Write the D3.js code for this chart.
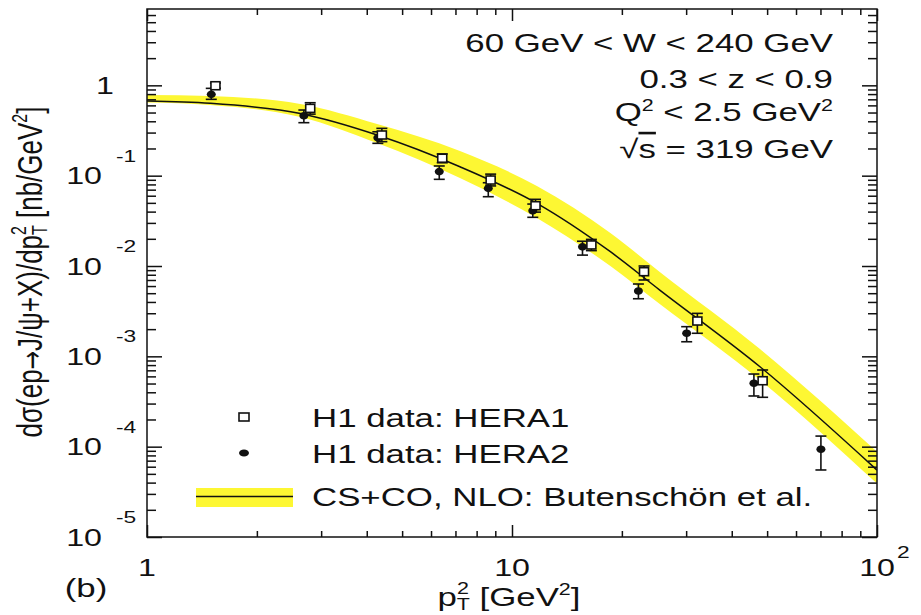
<!DOCTYPE html>
<html>
<head>
<meta charset="utf-8">
<script src="https://cdn.jsdelivr.net/npm/d3@7"></script>
<style>
body { margin: 0; background: #fff; }
text { font-family: "Liberation Sans", Arial, Helvetica, sans-serif; fill: #111; }
</style>
</head>
<body>
<svg width="921" height="615"></svg>
<script>
// H1 J/psi, d sigma / d pT^2
var hera1X  = [1.54, 2.80, 4.40, 6.44, 8.74, 11.6, 16.5, 23.0, 32.2, 48.6];
var hera1Y  = [0.99, 0.556, 0.282, 0.156, 0.0895, 0.0465, 0.0171, 0.00865, 0.00246, 0.000537];
var hera1Lo = [0.93, 0.48, 0.238, 0.139, 0.077, 0.0395, 0.0148, 0.0070, 0.0018, 0.000352];
var hera1Hi = [1.06, 0.642, 0.334, 0.174, 0.104, 0.0547, 0.0197, 0.0100, 0.00299, 0.000706];

var hera2X  = [1.50, 2.69, 4.29, 6.32, 8.61, 11.4, 15.6, 22.2, 30.1, 46.0, 70.2];
var hera2Y  = [0.795, 0.461, 0.263, 0.111, 0.0724, 0.0409, 0.0163, 0.00528, 0.0018, 0.000503, 0.0000935];
var hera2Lo = [0.700, 0.386, 0.228, 0.0911, 0.0585, 0.0346, 0.0132, 0.00434, 0.00145, 0.000364, 0.0000552];
var hera2Hi = [0.926, 0.533, 0.306, 0.128, 0.0835, 0.0485, 0.0188, 0.00632, 0.00213, 0.000637, 0.000131];

// CS+CO NLO prediction (central line and band)
var theoryX  = [1, 1.49, 2.63, 4.27, 7.2, 11.7, 18.6, 25.4, 47.8, 100];
var theoryY  = [0.670, 0.632, 0.488, 0.282, 0.1256, 0.0494, 0.01439, 0.00542, 0.000767, 0.000055];
var theoryLo = [0.645, 0.605, 0.446, 0.2297, 0.0942, 0.0340, 0.00999, 0.00379, 0.000547, 0.000039];
var theoryHi = [0.781, 0.761, 0.621, 0.373, 0.1875, 0.0768, 0.0232, 0.00858, 0.001205, 0.000088];

var yTickExp = [0, -1, -2, -3, -4, -5];
var xTickExp = [0, 1, 2];

var legendLabels = ["H1 data: HERA1", "H1 data: HERA2", "CS+CO, NLO: Butenschön et al."];
var cuts = ["60 GeV < W < 240 GeV", "0.3 < z < 0.9"];

var pLeft = 147, pRight = 877, pTop = 9, pBottom = 537;
var SX = 1.34;   // the picture is stretched sideways
var yellow = "#fdf733";

var x = d3.scaleLog().domain([1, 100]).range([pLeft, pRight]);
var y = d3.scaleLog().domain([1e-5, 7]).range([pBottom, pTop]);

var svg = d3.select("svg");

svg.append("clipPath").attr("id", "plot")
   .append("rect").attr("x", pLeft).attr("y", pTop)
   .attr("width", pRight - pLeft).attr("height", pBottom - pTop);

var theory = theoryX.map(function(d, i) {
    return {x: d, y: theoryY[i], lo: theoryLo[i], hi: theoryHi[i]};
});

var band = d3.area()
    .x(function(d) { return x(d.x); })
    .y0(function(d) { return y(d.lo); })
    .y1(function(d) { return y(d.hi); })
    .curve(d3.curveMonotoneX);

var line = d3.line()
    .x(function(d) { return x(d.x); })
    .y(function(d) { return y(d.y); })
    .curve(d3.curveMonotoneX);

var g = svg.append("g").attr("clip-path", "url(#plot)");
g.append("path").datum(theory).attr("d", band).attr("fill", yellow);
g.append("path").datum(theory).attr("d", line)
 .attr("fill", "none").attr("stroke", "#111").attr("stroke-width", 1.5);

// ticks
var majorY = yTickExp.map(function(e) { return Math.pow(10, e); });
var minorY = [];
for (var e = -5; e <= 0; e++)
    for (var m = 2; m <= 9; m++)
        if (m * Math.pow(10, e) < 7) minorY.push(m * Math.pow(10, e));
var majorX = xTickExp.map(function(e) { return Math.pow(10, e); });
var minorX = [];
for (var e2 = 0; e2 < 2; e2++)
    for (var m2 = 2; m2 <= 9; m2++) minorX.push(m2 * Math.pow(10, e2));

function ticks(axis, vals, size, tx, ty) {
    var a = svg.append("g")
        .attr("transform", "translate(" + tx + "," + ty + ")")
        .call(axis.tickValues(vals).tickSize(size).tickFormat(""));
    a.select(".domain").remove();
    a.selectAll("line").attr("stroke", "#111").attr("stroke-width", 1.5);
}
ticks(d3.axisLeft(y), majorY, -15, pLeft, 0);
ticks(d3.axisLeft(y), minorY, -9, pLeft, 0);
ticks(d3.axisRight(y), majorY, -15, pRight, 0);
ticks(d3.axisRight(y), minorY, -9, pRight, 0);
ticks(d3.axisBottom(x), majorX, -12, 0, pBottom);
ticks(d3.axisBottom(x), minorX, -6, 0, pBottom);
ticks(d3.axisTop(x), majorX, -12, 0, pTop);
ticks(d3.axisTop(x), minorX, -6, 0, pTop);

svg.append("rect")
   .attr("x", pLeft).attr("y", pTop)
   .attr("width", pRight - pLeft).attr("height", pBottom - pTop)
   .attr("fill", "none").attr("stroke", "#111").attr("stroke-width", 1.5);

function stext(px, py, anchor, size) {
    return svg.append("text")
        .attr("transform", "translate(" + px + "," + py + ") scale(" + SX + ",1)")
        .attr("text-anchor", anchor)
        .style("font-size", size + "px");
}

// y tick labels
yTickExp.forEach(function(e) {
    var py = y(Math.pow(10, e));
    if (e === 0) {
        stext(105, py + 8.5, "middle", 24).text("1");
    } else {
        stext(84, py + 8.5, "middle", 24).text("10");
        stext(116, py - 14, "start", 17).text(String(e));
    }
});

// x tick labels
xTickExp.forEach(function(e) {
    var px = x(Math.pow(10, e));
    if (e === 0) stext(px, 576, "middle", 24).text("1");
    else if (e === 1) stext(px, 576, "middle", 24).text("10");
    else {
        stext(px, 576, "middle", 24).text("10");
        stext(897, 558, "start", 17).text(String(e));
    }
});

// error bars and markers
function points(xs, ys, los, his) {
    return xs.map(function(d, i) { return {x: d, y: ys[i], lo: los[i], hi: his[i]}; });
}
var h1 = points(hera1X, hera1Y, hera1Lo, hera1Hi);
var h2 = points(hera2X, hera2Y, hera2Lo, hera2Hi);

function errorBars(data) {
    var eb = svg.append("g").attr("stroke", "#111").attr("stroke-width", 1.6);
    eb.selectAll(".v").data(data).enter().append("line")
      .attr("x1", function(d) { return x(d.x); }).attr("x2", function(d) { return x(d.x); })
      .attr("y1", function(d) { return y(d.lo); }).attr("y2", function(d) { return y(d.hi); });
    eb.selectAll(".t").data(data).enter().append("line")
      .attr("x1", function(d) { return x(d.x) - 5.5; }).attr("x2", function(d) { return x(d.x) + 5.5; })
      .attr("y1", function(d) { return y(d.hi); }).attr("y2", function(d) { return y(d.hi); });
    eb.selectAll(".b").data(data).enter().append("line")
      .attr("x1", function(d) { return x(d.x) - 5.5; }).attr("x2", function(d) { return x(d.x) + 5.5; })
      .attr("y1", function(d) { return y(d.lo); }).attr("y2", function(d) { return y(d.lo); });
}
errorBars(h1);
errorBars(h2);

svg.selectAll(".h2").data(h2).enter().append("ellipse")
   .attr("cx", function(d) { return x(d.x); })
   .attr("cy", function(d) { return y(d.y); })
   .attr("rx", 4.5).attr("ry", 3.8).attr("fill", "#111");

svg.selectAll(".h1").data(h1).enter().append("rect")
   .attr("x", function(d) { return x(d.x) - 4.5; })
   .attr("y", function(d) { return y(d.y) - 4; })
   .attr("width", 9).attr("height", 8)
   .attr("fill", "#fff").attr("stroke", "#111").attr("stroke-width", 1.6);

// cuts text
stext(833, 52, "end", 26).text(cuts[0]);
stext(833, 88, "end", 26).text(cuts[1]);
var q = stext(833, 121, "end", 26);
q.append("tspan").text("Q");
q.append("tspan").attr("dy", -10).style("font-size", "16px").text("2");
q.append("tspan").attr("dy", 10).text(" < 2.5 GeV");
q.append("tspan").attr("dy", -10).style("font-size", "16px").text("2");
var s = stext(833, 158, "end", 26);
s.append("tspan").text("\u221A");
s.append("tspan").style("text-decoration", "overline").text("s");
s.append("tspan").text(" = 319 GeV");

// legend
svg.append("rect").attr("x", 239).attr("y", 413).attr("width", 10).attr("height", 8)
   .attr("fill", "#fff").attr("stroke", "#111").attr("stroke-width", 1.6);
svg.append("ellipse").attr("cx", 244).attr("cy", 453).attr("rx", 5).attr("ry", 3.5).attr("fill", "#111");
svg.append("rect").attr("x", 196).attr("y", 488).attr("width", 97).attr("height", 19).attr("fill", yellow);
svg.append("line").attr("x1", 196).attr("x2", 293).attr("y1", 496.5).attr("y2", 496.5)
   .attr("stroke", "#111").attr("stroke-width", 1.5);
stext(312, 427, "start", 26).text(legendLabels[0]);
stext(312, 463, "start", 26).text(legendLabels[1]);
stext(312, 506, "start", 26).text(legendLabels[2]);

// axis titles
var xt = stext(509, 606, "middle", 26);
xt.append("tspan").text("p");
xt.append("tspan").attr("dy", -12).style("font-size", "16px").text("2");
xt.append("tspan").attr("dx", -9).attr("dy", 16).style("font-size", "16px").text("T");
xt.append("tspan").attr("dy", -4).text(" [GeV");
xt.append("tspan").attr("dy", -11).style("font-size", "16px").text("2");
xt.append("tspan").attr("dy", 11).text("]");

var yt = svg.append("text")
    .attr("transform", "translate(42,272) scale(" + SX + ",1) rotate(-90)")
    .attr("text-anchor", "middle")
    .style("font-size", "26px");
yt.append("tspan").text("d\u03C3(ep");
yt.append("tspan").style("font-family", "'DejaVu Sans'").style("font-size", "22px").text("\u2192");
yt.append("tspan").text("J/\u03C8+X)/dp");
yt.append("tspan").attr("dy", -12).style("font-size", "16px").text("2");
yt.append("tspan").attr("dx", -9).attr("dy", 16).style("font-size", "16px").text("T");
yt.append("tspan").attr("dy", -4).text("  [nb/GeV");
yt.append("tspan").attr("dy", -11).style("font-size", "16px").text("2");
yt.append("tspan").attr("dy", 11).text("]");

stext(86, 597, "middle", 26).text("(b)");
</script>
</body>
</html>
